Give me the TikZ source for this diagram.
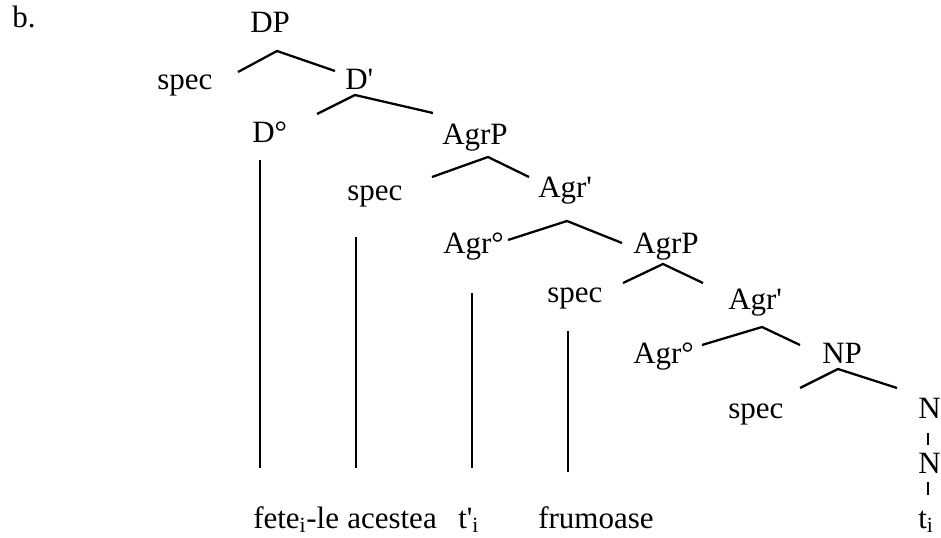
\documentclass[tikz,border=0pt]{standalone}
\usepackage{fontspec}
\setmainfont{Liberation Serif}
\newcommand{\sq}{\textquotesingle}

\begin{document}
\begin{tikzpicture}[
    x=0.75pt,
    y=-0.75pt,
    every node/.style={
        anchor=base west,
        inner sep=0pt,
        font=\fontsize{23.25}{28}\selectfont
    },
    branch/.style={
        draw,
        line width=1.7pt
    },
    stem/.style={
        draw,
        line width=1.2pt
    },
    ]
    \useasboundingbox (0,0) rectangle (941,538);
    % labels of the tree
    \node (label) at (12,28) {b.};
    \node (dp) at (250,33) {DP};
    \node (spec1) at (157,90) {spec};
    \node (dbar) at (345,90) {D\sq};
    \node (d0) at (252,143) {D°};
    \node (agrp1) at (442,145) {AgrP};
    \node (spec2) at (347,200) {spec};
    \node (agrbar1) at (538,198) {Agr\sq};
    \node (agr01) at (443,253) {Agr°};
    \node (agrp2) at (633,253) {AgrP};
    \node (spec3) at (547,302) {spec};
    \node (agrbar2) at (728,309) {Agr\sq};
    \node (agr02) at (633,363) {Agr°};
    \node (np) at (822,363) {NP};
    \node (spec4) at (728,418) {spec};
    \node (n1) at (918,418) {N};
    \node (n2) at (918,473) {N};
    % words
    \node (fete) at (253,528) {fete\textsubscript{i}-le};
    \node (acestea) at (347,528) {acestea};
    \node (trace1) at (458,528) {t\sq\textsubscript{i}};
    \node (frumoase) at (538,528) {frumoase};
    \node (trace2) at (918,528) {t\textsubscript{i}};
    % branches
    \path[branch] ([shift={(81,-18)}]spec1.base west) -- ([shift={(27,18)}]dp.base west) -- ([shift={(-10,-19)}]dbar.base west);
    \path[branch] ([shift={(65,-29)}]d0.base west) -- ([shift={(10,5)}]dbar.base west) -- ([shift={(-9,-32)}]agrp1.base west);
    \path[branch] ([shift={(85,-23)}]spec2.base west) -- ([shift={(46,12)}]agrp1.base west) -- ([shift={(-9,-21)}]agrbar1.base west);
    \path[branch] ([shift={(65,-13)}]agr01.base west) -- ([shift={(29,23)}]agrbar1.base west) -- ([shift={(-11,-10)}]agrp2.base west);
    \path[branch] ([shift={(76,-19)}]spec3.base west) -- ([shift={(30,11)}]agrp2.base west) -- ([shift={(-25,-26)}]agrbar2.base west);
    \path[branch] ([shift={(69,-18)}]agr02.base west) -- ([shift={(34,18)}]agrbar2.base west) -- ([shift={(-22,-18)}]np.base west);
    \path[branch] ([shift={(72,-30)}]spec4.base west) -- ([shift={(16,6)}]np.base west) -- ([shift={(-21,-30)}]n1.base west);
    % stems down to the words
    \path[stem] ([shift={(8,17)}]d0.base west) -- ([shift={(7,-60)}]fete.base west);
    \path[stem] ([shift={(9,37)}]spec2.base west) -- ([shift={(9,-60)}]acestea.base west);
    \path[stem] ([shift={(29,40)}]agr01.base west) -- ([shift={(14,-60)}]trace1.base west);
    \path[stem] ([shift={(21,29)}]spec3.base west) -- ([shift={(30,-56)}]frumoase.base west);
    \path[stem] ([shift={(10,15)}]n1.base west) -- ([shift={(10,-28)}]n2.base west);
    \path[stem] ([shift={(10,9)}]n2.base west) -- ([shift={(10,-33)}]trace2.base west);
\end{tikzpicture}
\end{document}
